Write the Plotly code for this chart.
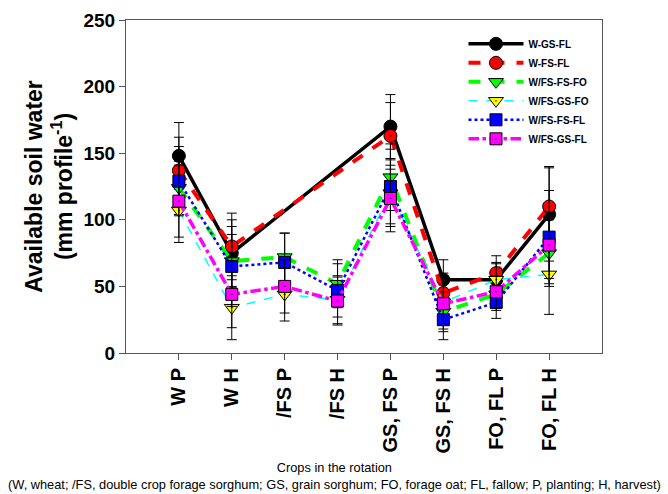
import plotly.graph_objects as go

categories = ["W P", "W H", "/FS P", "/FS H", "GS, FS P", "GS, FS H", "FO, FL P", "FO, FL H"]

w_gs_fl = [148, 75, None, None, 170, 55, 55, 104]
w_gs_fl_err = [25, 25, None, None, 24, 15, 13, 35]

w_fs_fl = [137, 80, None, None, 163, 45, 60, 110]
w_fs_fl_err = [25, 25, None, None, 25, 15, 13, 30]

wfs_fs_fo = [124, 69, 72, 52, 132, 31, 44, 75]
wfs_fs_fo_err = [20, 20, 18, 18, 25, 15, 12, 25]

wfs_gs_fo = [107, 34, 44, 40, 120, 38, 55, 59]
wfs_gs_fo_err = [24, 24, 20, 18, 25, 20, 12, 30]

wfs_fs_fl = [129, 65, 68, 47, 125, 25, 38, 87]
wfs_fs_fl_err = [26, 30, 22, 20, 28, 15, 12, 35]

wfs_gs_fl = [114, 44, 50, 39, 116, 37, 46, 81]
wfs_gs_fl_err = [27, 25, 20, 18, 25, 15, 12, 25]

y_ticks = [0, 50, 100, 150, 200, 250]

styles = [
    ("W-GS-FL", w_gs_fl, w_gs_fl_err, "black", "solid", 3.5, "circle", "black", 13),
    ("W-FS-FL", w_fs_fl, w_fs_fl_err, "red", "dash", 4, "circle-dot", "red", 13),
    ("W/FS-FS-FO", wfs_fs_fo, wfs_fs_fo_err, "#00ff00", "dash", 4, "triangle-down", "#00ff00", 13),
    ("W/FS-GS-FO", wfs_gs_fo, wfs_gs_fo_err, "#00ffff", "dash", 1.5, "triangle-down-dot", "#ffff00", 13),
    ("W/FS-FS-FL", wfs_fs_fl, wfs_fs_fl_err, "#0000ff", "dot", 2.5, "square", "#0000ff", 12),
    ("W/FS-GS-FL", wfs_gs_fl, wfs_gs_fl_err, "#ff00ff", "dashdot", 3.5, "square-dot", "#ff00ff", 12),
]

fig = go.Figure()
for name, vals, errs, lc, dash, lw, sym, mc, ms in styles:
    fig.add_trace(go.Scatter(
        x=categories, y=vals, name=name, mode="lines+markers",
        connectgaps=True,
        line=dict(color=lc, dash=dash, width=lw),
        marker=dict(symbol=sym, color=mc, size=ms, line=dict(color="black", width=1)),
        error_y=dict(type="data", array=errs, visible=True, color="black", thickness=1, width=5),
    ))

font_family = "Liberation Sans, Arial, sans-serif"

fig.update_layout(
    width=668, height=494,
    margin=dict(l=126, r=66, t=20, b=141),
    plot_bgcolor="white", paper_bgcolor="white",
    font=dict(family=font_family, color="black"),
    showlegend=True,
    legend=dict(
        x=0.709, y=0.972, xanchor="left", yanchor="top",
        font=dict(family=font_family, size=10, weight="bold"),
        bgcolor="rgba(0,0,0,0)", itemwidth=55, tracegroupgap=0,
    ),
    xaxis=dict(
        type="category", categoryorder="array", categoryarray=categories,
        range=[-1, 8], tickangle=-90, automargin=False,
        tickfont=dict(family=font_family, size=20, weight="bold"),
        showline=True, linecolor="#555555", linewidth=1, mirror=True,
        ticks="outside", ticklen=6, tickcolor="#555555",
        showgrid=False, zeroline=False,
    ),
    yaxis=dict(
        range=[0, 250], tickvals=y_ticks, automargin=False,
        tickfont=dict(family=font_family, size=19, weight="bold"),
        showline=True, linecolor="#555555", linewidth=1, mirror=True,
        ticks="outside", ticklen=6, tickcolor="#555555",
        showgrid=False, zeroline=False,
        title=dict(text="Available soil water<br>(mm profile<sup>-1</sup>)",
                   font=dict(family=font_family, size=23, weight="bold"), standoff=4),
    ),
    annotations=[
        dict(text="Crops in the rotation<br>(W, wheat; /FS, double crop forage sorghum; GS, grain sorghum; FO, forage oat; FL, fallow; P, planting; H, harvest)",
             xref="paper", yref="paper", x=0.437, y=-0.315, xanchor="center", yanchor="top",
             showarrow=False, font=dict(family=font_family, size=12.8), align="center"),
    ],
)

fig.write_html("out.html", config={"displayModeBar": False},
               post_script="document.body.style.margin='0';")
